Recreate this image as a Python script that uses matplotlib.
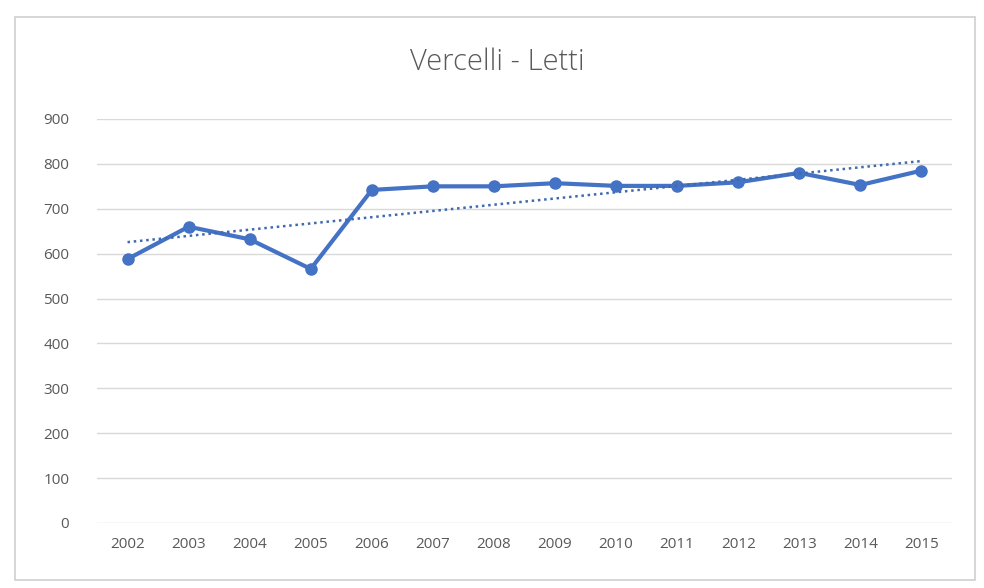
import matplotlib
matplotlib.use("Agg")
import matplotlib.pyplot as plt
from matplotlib.patches import Rectangle
import numpy as np

years = ["2002", "2003", "2004", "2005", "2006", "2007", "2008",
         "2009", "2010", "2011", "2012", "2013", "2014", "2015"]
letti = [588, 660, 632, 566, 742, 750, 750, 757, 751, 751, 759, 780, 753, 785]
y_ticks = [0, 100, 200, 300, 400, 500, 600, 700, 800, 900]
title = "Vercelli - Letti"

plt.rcParams['font.family'] = ['Open Sans', 'DejaVu Sans']

fig = plt.figure(figsize=(9.84, 5.88), dpi=100)
fig.patch.set_facecolor("white")
fig.patches.append(Rectangle((15/984, 1-580/588), 960/984, 563/588,
                             transform=fig.transFigure, fill=False,
                             edgecolor="#D0D0D0", linewidth=1.2))

ax = fig.add_axes([97/984, 1-523/588, 855/984, 404/588])
x = np.arange(len(years))
ax.plot(x, letti, color="#4472C4", linewidth=3, marker="o", markersize=8,
        markerfacecolor="#4472C4", markeredgecolor="#4472C4", zorder=3)

coef = np.polyfit(x, letti, 1)
trend = np.polyval(coef, x)
ax.plot(x, trend, color="#3F6AAE", linewidth=1.8, linestyle=(0, (1, 1.5)), zorder=4)

ax.set_xlim(-0.5, len(years) - 0.5)
ax.set_ylim(0, 900)
ax.set_yticks(y_ticks)
ax.set_xticks(x)
ax.set_xticklabels(years)
ax.grid(axis="y", color="#D9D9D9", linewidth=1)
ax.set_axisbelow(True)
for s in ax.spines.values():
    s.set_visible(False)
ax.tick_params(length=0, labelsize=11, colors="#595959", pad=10)
ax.tick_params(axis="y", pad=20)

fig.text(0.505, 1-62/588, title, ha="center", va="center",
         fontsize=21, color="#595959", fontweight="light")

fig.savefig("out.png", dpi=100)
